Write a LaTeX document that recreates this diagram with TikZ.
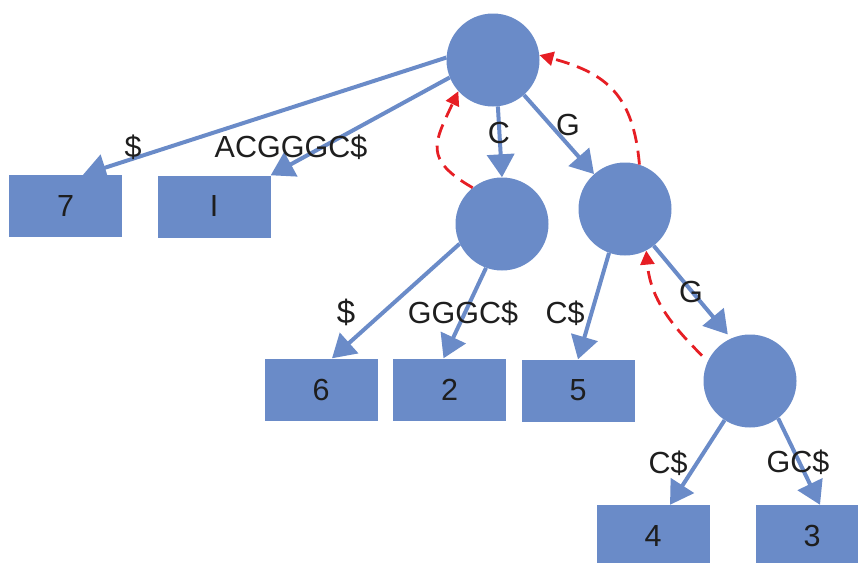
\documentclass[tikz,border=0pt]{standalone}
\usepackage{fontspec}
\setmainfont{Liberation Sans}
\usetikzlibrary{arrows.meta}
\definecolor{nodeblue}{RGB}{106,139,200}
\definecolor{linkred}{RGB}{230,30,36}
\definecolor{txt}{RGB}{30,30,30}
\tikzset{
  inode/.style={circle,fill=nodeblue,draw=none,minimum size=93pt,inner sep=0pt},
  leafbox/.style={rectangle,fill=nodeblue,draw=none,minimum width=113pt,minimum height=62pt,inner sep=0pt,text=txt,font=\fontsize{30.5}{36}\selectfont},
  lbl/.style={inner sep=0pt,text=txt,font=\fontsize{30.5}{36}\selectfont},
  treeedge/.style={draw=nodeblue,line width=4pt,-{Triangle[length=23pt,width=27pt]}},
  suffixlink/.style={draw=linkred,line width=2.8pt,dash pattern=on 14pt off 8pt,-{Triangle[length=14pt,width=14pt]}}
}
\begin{document}
\begin{tikzpicture}[x=1pt,y=1pt]
\useasboundingbox (0,0) rectangle (858,-562);
\clip (0,0) rectangle (858,-562);
% internal nodes
\node[inode] (root) at (493,-60) {};
\node[inode] (c) at (502,-224) {};
\node[inode] (g) at (625,-209) {};
\node[inode] (gg) at (750,-381) {};
% leaves
\node[leafbox] (b7) at (65.5,-206) {7};
\node[leafbox] (bI) at (214,-206.5) {I};
\node[leafbox] (b6) at (321,-389.5) {6};
\node[leafbox] (b2) at (449.5,-389.5) {2};
\node[leafbox] (b5) at (578,-390.5) {5};
\node[leafbox] (b4) at (653,-536) {4};
\node[leafbox] (b3) at (812,-536) {3};
% tree edges
\draw[treeedge] (root.177) -- ([xshift=17.5pt]b7.north);
\draw[treeedge] (root.202) -- (bI.north east);
\draw[treeedge] (root.-84) -- (c.north);
\draw[treeedge] (root) -- (g);
\draw[treeedge] (c.205) -- ([xshift=11pt]b6.north);
\draw[treeedge] (c.250) -- ([xshift=-6pt]b2.north);
\draw[treeedge] (g.250) -- (b5.north);
\draw[treeedge,shorten >=5pt] (g.-52) -- (gg.114);
\draw[treeedge] (gg.237) -- ([xshift=17pt]b4.north);
\draw[treeedge] (gg.-53) -- ([xshift=8pt]b3.north);
% suffix links
\draw[suffixlink] (c.129) to[out=150,in=245,looseness=1.5] (root.222);
\draw[suffixlink] (g.72) to[out=95,in=-15,looseness=1.2] (root.6);
\draw[suffixlink,shorten <=8pt] (gg.155) to[out=135,in=-85] (g.-63);
% edge labels
\node[lbl] (l1) at (133,-147) {\$};
\node[lbl] (l2) at (291,-147) {ACGGGC\$};
\node[lbl] (l3) at (499,-133) {C};
\node[lbl] (l4) at (568,-125) {G};
\node[lbl,font=\fontsize{33}{39}\selectfont] (l5) at (346,-312) {\$};
\node[lbl] (l6) at (463,-313) {GGGC\$};
\node[lbl] (l7) at (565,-313) {C\$};
\node[lbl] (l8) at (691,-292) {G};
\node[lbl] (l9) at (668,-463) {C\$};
\node[lbl] (l10) at (798,-462) {GC\$};
\end{tikzpicture}
\end{document}
